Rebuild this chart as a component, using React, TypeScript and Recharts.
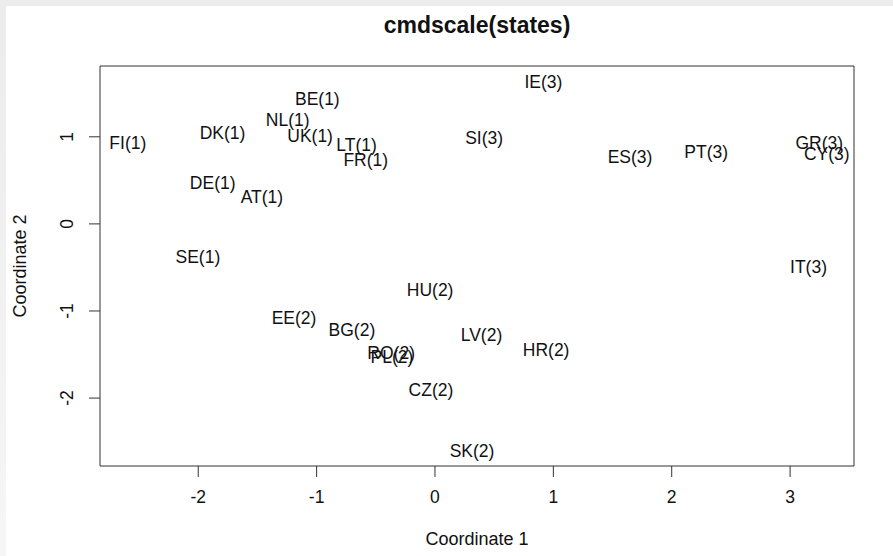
import { ScatterChart, Scatter, XAxis, YAxis, ReferenceArea } from "recharts";

const states = ["FI", "DK", "BE", "NL", "UK", "LT", "FR", "DE", "AT", "SE", "IE", "SI", "ES", "PT", "GR", "CY", "IT", "HU", "EE", "BG", "RO", "PL", "LV", "HR", "CZ", "SK"];
const clusters = [1, 1, 1, 1, 1, 1, 1, 1, 1, 1, 3, 3, 3, 3, 3, 3, 3, 2, 2, 2, 2, 2, 2, 2, 2, 2];
const coord1 = [-2.595, -1.795, -0.994, -1.244, -1.055, -0.662, -0.585, -1.878, -1.462, -2.003, 0.916, 0.415, 1.648, 2.291, 3.247, 3.31, 3.156, -0.041, -1.191, -0.702, -0.37, -0.364, 0.393, 0.939, -0.034, 0.313];
const coord2 = [0.932, 1.04, 1.43, 1.193, 1.009, 0.906, 0.734, 0.467, 0.306, -0.382, 1.625, 0.983, 0.772, 0.822, 0.932, 0.803, -0.49, -0.757, -1.075, -1.216, -1.476, -1.522, -1.273, -1.445, -1.904, -2.603];

const xTicks = [-2, -1, 0, 1, 2, 3];
const yTicks = [-2, -1, 0, 1];
const xDomain = [-2.83, 3.54];
const yDomain = [-2.78, 1.813];

const data = states.map((s, i) => ({ x: coord1[i], y: coord2[i], label: `${s}(${clusters[i]})` }));

const FONT = "'Liberation Sans', Arial, sans-serif";

const LabelShape = (props: any) => (
  <text x={props.cx} y={props.cy} dy="0.35em" textAnchor="middle" fontSize={17.5} fontFamily={FONT} fill="#111">
    {props.payload.label}
  </text>
);

const XTick = (props: any) => (
  <text x={props.x} y={497} dy="0.35em" textAnchor="middle" fontSize={17.5} fontFamily={FONT} fill="#111">
    {props.payload.value}
  </text>
);

const YTick = (props: any) => (
  <text x={67} y={props.y} dy="0.35em" textAnchor="middle" fontSize={17.5} fontFamily={FONT} fill="#111" transform={`rotate(-90, 67, ${props.y})`}>
    {props.payload.value}
  </text>
);

export default function App() {
  return (
    <div style={{ position: "fixed", left: 0, top: 0, width: 893, height: 556, background: "linear-gradient(#ececec, #f6f6f6)" }}>
      <div style={{ position: "absolute", left: 6, top: 6, width: 887, height: 550, background: "#fff" }} />
      <div style={{ position: "absolute", left: 0, top: 0 }}>
        <ScatterChart width={893} height={556} margin={{ top: 66, right: 39, bottom: 30, left: 40 }}>
          <XAxis type="number" dataKey="x" domain={xDomain} ticks={xTicks} allowDataOverflow axisLine={false} tickLine={{ stroke: "#333" }} tickSize={11} tick={<XTick />} height={60} />
          <YAxis type="number" dataKey="y" domain={yDomain} ticks={yTicks} allowDataOverflow axisLine={false} tickLine={{ stroke: "#333" }} tickSize={11} tick={<YTick />} width={60} />
          <ReferenceArea x1={xDomain[0]} x2={xDomain[1]} y1={yDomain[0]} y2={yDomain[1]} fill="none" stroke="#333" strokeWidth={1} ifOverflow="extendDomain" />
          <Scatter data={data} shape={LabelShape} isAnimationActive={false} />
        </ScatterChart>
      </div>
      <div style={{ position: "absolute", left: 100, width: 754, top: 12, textAlign: "center", fontFamily: FONT, fontWeight: "bold", fontSize: 23, color: "#111" }}>
        cmdscale(states)
      </div>
      <div style={{ position: "absolute", left: 100, width: 754, top: 529, textAlign: "center", fontFamily: FONT, fontSize: 18, color: "#111" }}>
        Coordinate 1
      </div>
      <div style={{ position: "absolute", left: 20, top: 266, width: 0, height: 0 }}>
        <div style={{ position: "absolute", left: -100, top: -11, width: 200, textAlign: "center", transform: "rotate(-90deg)", fontFamily: FONT, fontSize: 18, color: "#111", lineHeight: "22px" }}>
          Coordinate 2
        </div>
      </div>
    </div>
  );
}
